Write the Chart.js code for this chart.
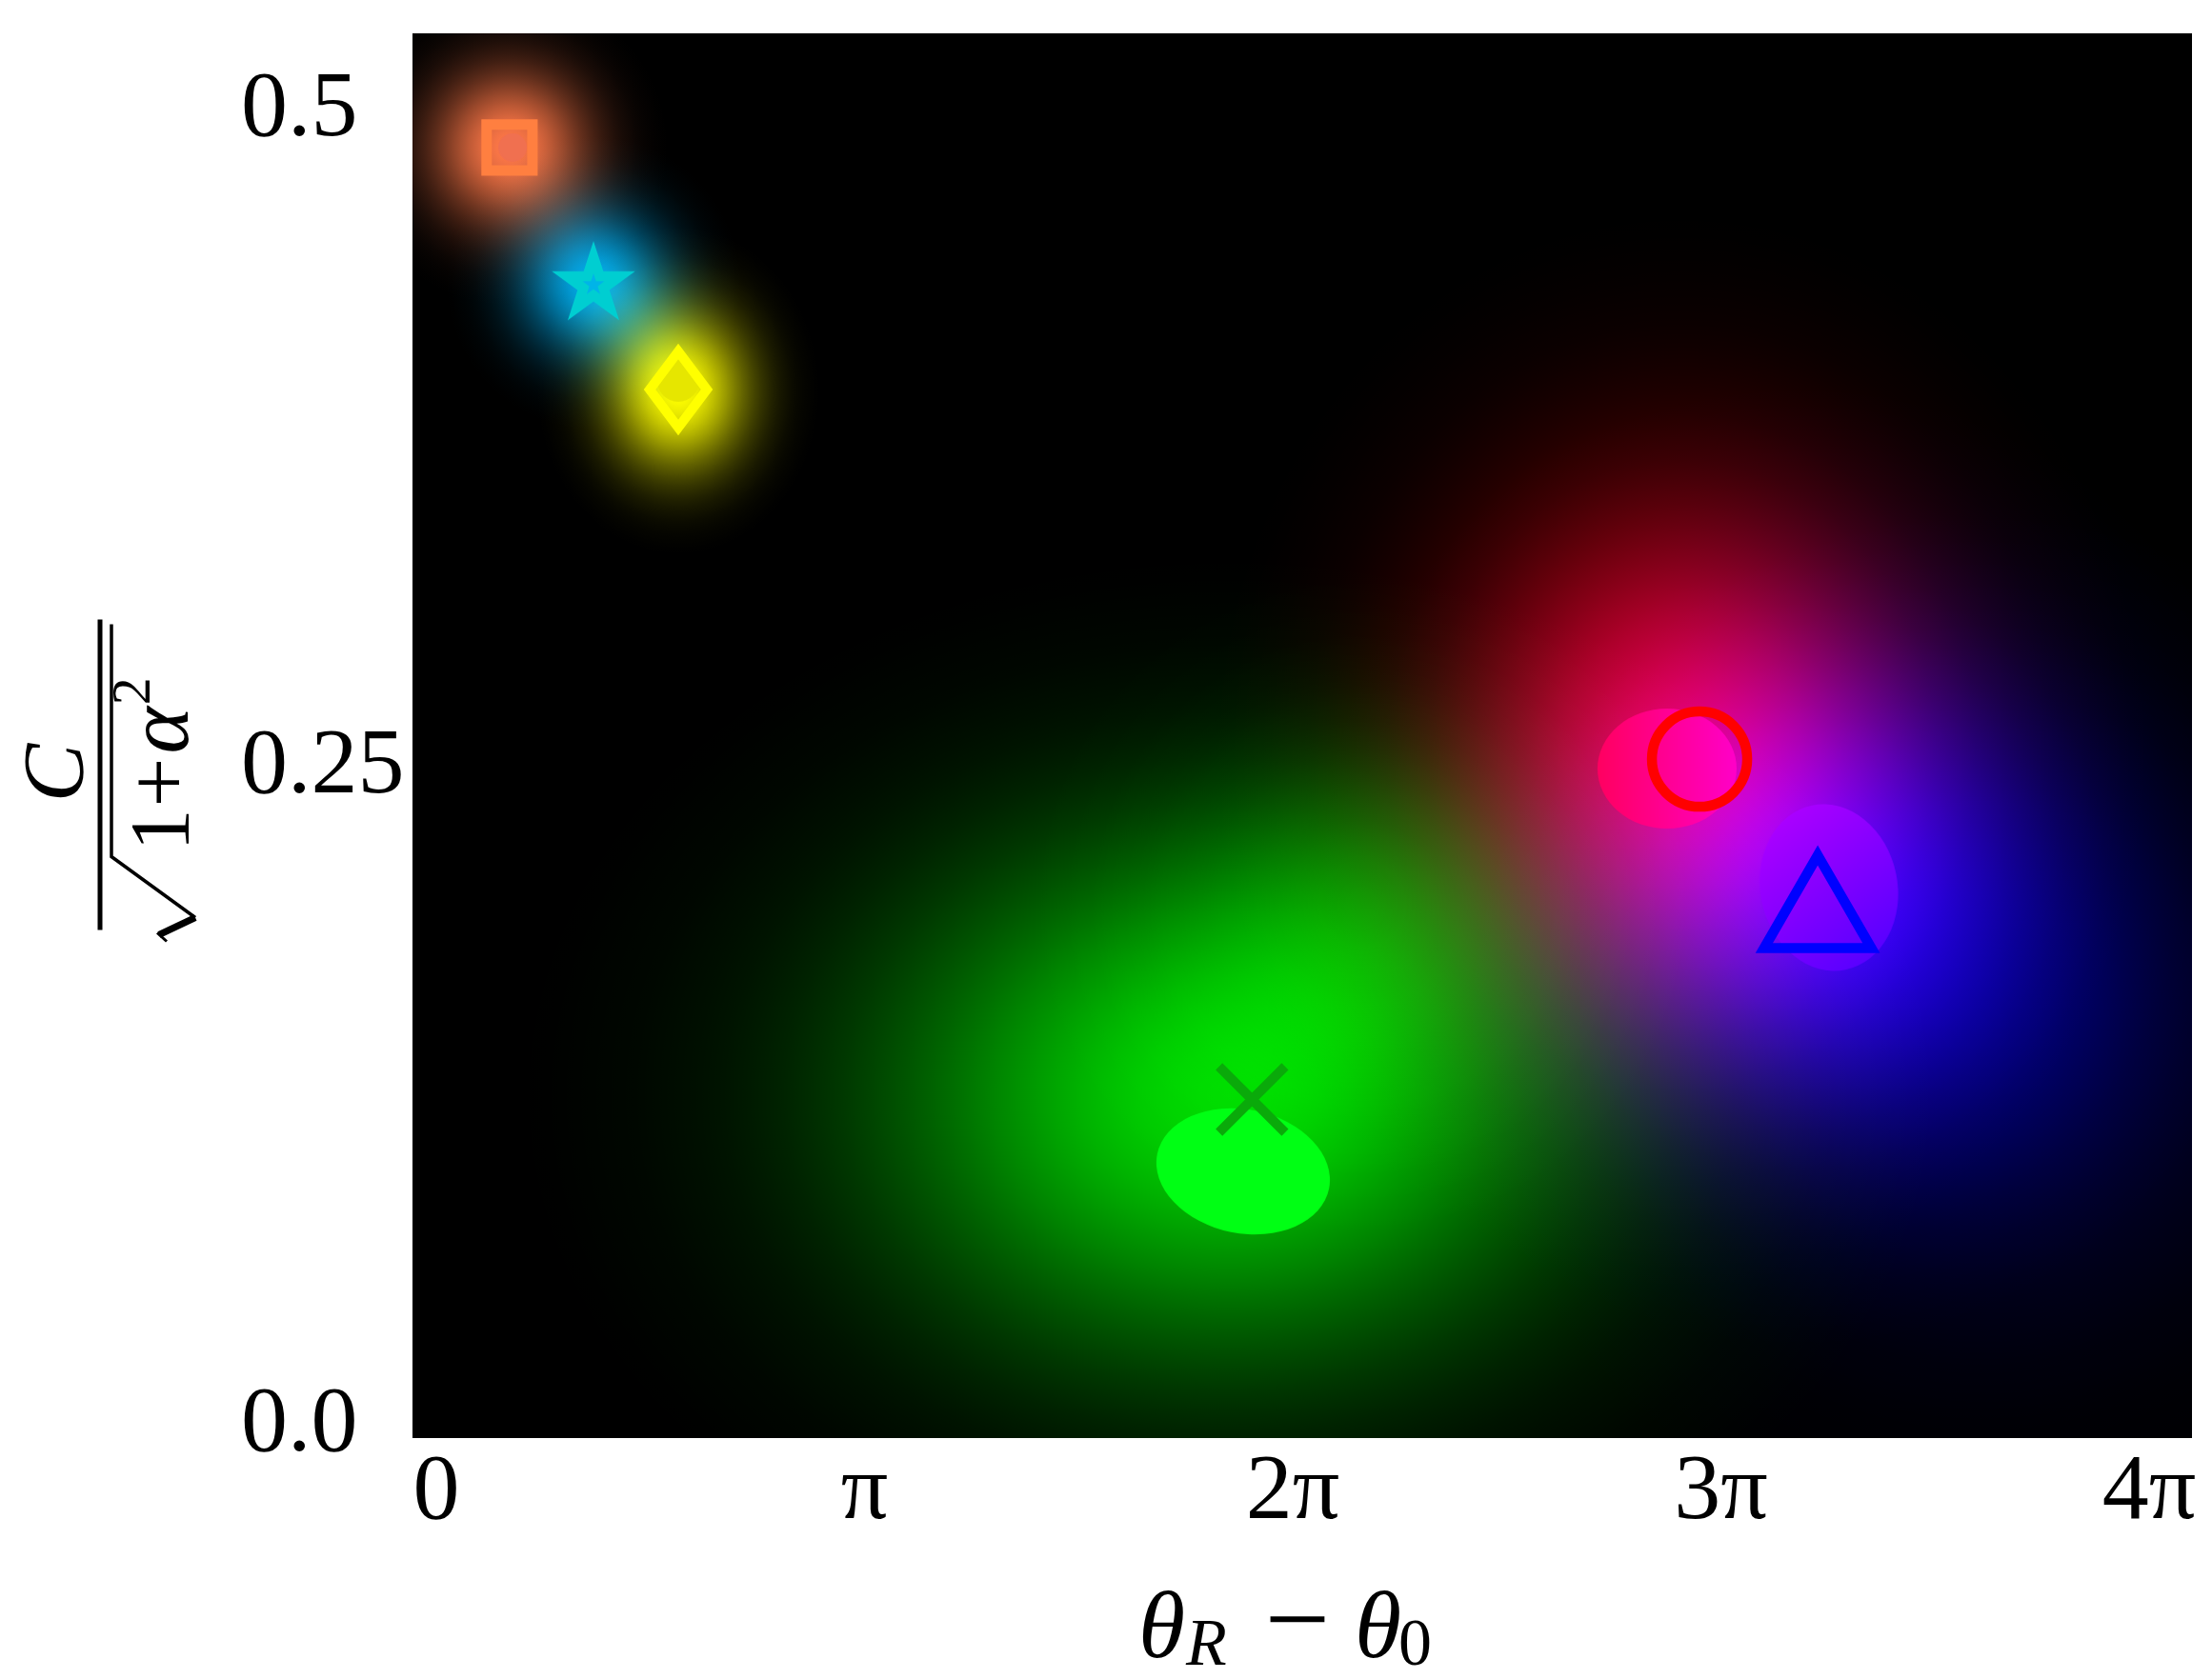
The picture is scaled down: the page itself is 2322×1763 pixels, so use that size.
<!DOCTYPE html>
<html>
<head>
<meta charset="utf-8">
<script src="https://cdn.jsdelivr.net/npm/chart.js@4.4.1/dist/chart.umd.min.js"></script>
<style>
  html, body { margin: 0; padding: 0; background: #fff; }
  #wrap { width: 2322px; height: 1763px; }
</style>
</head>
<body>
<div id="wrap"><canvas id="chart" width="2322" height="1763"></canvas></div>
<script>
// x values are in units of pi
const markerNames = ['square', 'star', 'diamond', 'cross', 'circle', 'triangle'];
const markerX = [0.171, 0.367, 0.565, 1.905, 2.950, 3.226];
const markerY = [0.4859, 0.4337, 0.3939, 0.1240, 0.2534, 0.1933];

// centres of the coloured density clouds
const glowX = [0.171, 0.367, 0.565, 1.851, 2.162, 2.908, 3.186, 3.608];
const glowY = [0.4859, 0.4345, 0.3936, 0.1256, 0.1980, 0.2560, 0.2125, 0.1510];

// saturated cores of the clouds
const coreX = [0.178, 0.565, 1.884, 2.874, 3.252];
const coreY = [0.4859, 0.3972, 0.0967, 0.2498, 0.2046];

const xTicks = [0, 1, 2, 3, 4];
const xTickLabels = ['0', 'π', '2π', '3π', '4π'];
const yTicks = [0, 0.25, 0.5];
const yTickLabels = ['0.0', '0.25', '0.5'];

const glowStyles = [
    { rgb: [255, 120, 72], sx: 56, sy: 56, peak: 1.0 },
    { rgb: [0, 170, 235], sx: 52, sy: 52, peak: 1.0 },
    { rgb: [255, 255, 0], sx: 50, sy: 58, peak: 1.0 },
    { rgb: [0, 255, 0], sx: 250, sy: 190, peak: 0.85 },
    { rgb: [0, 255, 0], sx: 120, sy: 120, peak: 0.2 },
    { rgb: [255, 0, 0], sx: 165, sy: 190, peak: 0.9 },
    { rgb: [0, 0, 255], sx: 170, sy: 170, peak: 0.9 },
    { rgb: [0, 0, 255], sx: 190, sy: 190, peak: 0.3 }
];

const coreStyles = [
    { rx: 15, ry: 15, rot: 0, colors: ['#f07050'] },
    { rx: 22, ry: 22, rot: 0, colors: ['#e6e600'] },
    { rx: 92, ry: 65, rot: 0.2, colors: ['#00ff14'] },
    { rx: 73, ry: 63, rot: 0, colors: ['#ff0060', '#ff00c8'] },
    { rx: 72, ry: 88, rot: -0.2, colors: ['#b800ff', '#4c00ff'] }
];

const SERIF = '"Liberation Serif", "Times New Roman", serif';

function makeGlow(s) {
    const c = document.createElement('canvas');
    c.width = Math.ceil(6 * s.sx);
    c.height = Math.ceil(6 * s.sy);
    const g = c.getContext('2d');
    g.translate(c.width / 2, c.height / 2);
    g.scale(1, s.sy / s.sx);
    const r = 3 * s.sx;
    const grad = g.createRadialGradient(0, 0, 0, 0, 0, r);
    const tail = Math.exp(-4.5);
    for (let i = 0; i <= 24; i++) {
        const t = i / 24;
        const a = s.peak * Math.max(0, (Math.exp(-4.5 * t * t) - tail) / (1 - tail));
        grad.addColorStop(t, 'rgba(' + s.rgb.join(',') + ',' + a.toFixed(4) + ')');
    }
    g.fillStyle = grad;
    g.fillRect(-r, -r, 2 * r, 2 * r);
    return c;
}

function makeCore(s) {
    const size = 2 * Math.max(s.rx, s.ry) + 4;
    const c = document.createElement('canvas');
    c.width = size; c.height = size;
    const g = c.getContext('2d');
    g.translate(size / 2, size / 2);
    if (s.colors.length > 1) {
        const grad = s.rot === 0
            ? g.createLinearGradient(-s.rx, 0, s.rx, 0)
            : g.createLinearGradient(-s.rx, -s.ry, s.rx, s.ry);
        grad.addColorStop(0, s.colors[0]);
        grad.addColorStop(1, s.colors[1]);
        g.fillStyle = grad;
    } else {
        g.fillStyle = s.colors[0];
    }
    g.beginPath();
    g.ellipse(0, 0, s.rx, s.ry, s.rot, 0, Math.PI * 2);
    g.fill();
    return c;
}

function starPath(g, R, r) {
    g.beginPath();
    for (let i = 0; i < 10; i++) {
        const a = -Math.PI / 2 + i * Math.PI / 5;
        const rr = i % 2 === 0 ? R : r;
        if (i === 0) g.moveTo(rr * Math.cos(a), rr * Math.sin(a));
        else g.lineTo(rr * Math.cos(a), rr * Math.sin(a));
    }
    g.closePath();
}

function makeStar() {
    const c = document.createElement('canvas');
    c.width = 100; c.height = 100;
    const g = c.getContext('2d');
    g.translate(50, 50);
    starPath(g, 46, 17.6);
    g.fillStyle = '#00ced1';
    g.fill();
    starPath(g, 12, 4.6);
    g.fillStyle = '#00b4e8';
    g.fill();
    return c;
}

function makeDiamond() {
    const c = document.createElement('canvas');
    c.width = 90; c.height = 114;
    const g = c.getContext('2d');
    g.translate(45, 57);
    g.beginPath();
    g.moveTo(0, -40); g.lineTo(30, 0); g.lineTo(0, 40); g.lineTo(-30, 0);
    g.closePath();
    g.lineJoin = 'miter';
    g.lineWidth = 10;
    g.strokeStyle = '#ffff00';
    g.stroke();
    return c;
}

function toPoints(xs, ys) {
    return xs.map((x, i) => ({ x: x, y: ys[i] }));
}

const blendPlugin = {
    id: 'blend',
    beforeDatasetsDraw(chart) {
        const a = chart.chartArea;
        chart.ctx.save();
        chart.ctx.fillStyle = '#000';
        chart.ctx.fillRect(a.left, a.top, a.right - a.left, a.bottom - a.top);
        chart.ctx.restore();
    },
    beforeDatasetDraw(chart, args) {
        if (chart.data.datasets[args.index].additive) {
            chart.ctx.globalCompositeOperation = 'lighter';
        }
    },
    afterDatasetDraw(chart) {
        chart.ctx.globalCompositeOperation = 'source-over';
    }
};

const titlePlugin = {
    id: 'titles',
    afterDraw(chart) {
        const ctx = chart.ctx;
        const a = chart.chartArea;
        ctx.save();
        ctx.fillStyle = '#000';
        ctx.strokeStyle = '#000';
        ctx.textBaseline = 'alphabetic';

        // x title: theta_R - theta_0
        const mid = (a.left + a.right) / 2;
        const base = a.bottom + 230;
        ctx.textAlign = 'left';
        ctx.font = 'italic 100px ' + SERIF;
        ctx.fillText('θ', mid - 172, base);
        ctx.font = 'italic 70px ' + SERIF;
        ctx.fillText('R', mid - 122, base + 8);
        ctx.textAlign = 'center';
        ctx.font = '122px ' + SERIF;
        ctx.fillText('−', mid - 5, base + 1);
        ctx.textAlign = 'left';
        ctx.font = 'italic 100px ' + SERIF;
        ctx.fillText('θ', mid + 55, base);
        ctx.font = '70px ' + SERIF;
        ctx.fillText('0', mid + 101, base + 8);

        // y title: C / sqrt(1 + alpha^2), rotated
        ctx.translate(a.left - 328, (a.top + a.bottom) / 2 + 41);
        ctx.rotate(-Math.PI / 2);
        ctx.lineWidth = 5;
        ctx.beginPath();
        ctx.moveTo(-163, 0); ctx.lineTo(163, 0);
        ctx.stroke();
        ctx.textAlign = 'center';
        ctx.font = 'italic 92px ' + SERIF;
        ctx.fillText('C', 2, -18);

        ctx.textAlign = 'left';
        let x = -80;
        ctx.font = '88px ' + SERIF;
        ctx.fillText('1', x, 92);
        x += ctx.measureText('1').width + 2;
        ctx.font = '92px ' + SERIF;
        ctx.fillText('+', x, 92);
        x += ctx.measureText('+').width + 4;
        ctx.font = 'italic 94px ' + SERIF;
        ctx.fillText('α', x, 92);
        x += ctx.measureText('α').width + 2;
        ctx.font = '58px ' + SERIF;
        ctx.fillText('2', x, 52);
        x += ctx.measureText('2').width;

        ctx.lineWidth = 3.5;
        ctx.lineJoin = 'miter';
        ctx.beginPath();
        ctx.moveTo(-150, 100); ctx.lineTo(-86, 12); ctx.lineTo(Math.max(158, x + 6), 12);
        ctx.stroke();
        ctx.lineWidth = 7;
        ctx.beginPath();
        ctx.moveTo(-168, 62); ctx.lineTo(-150, 100);
        ctx.stroke();
        ctx.lineWidth = 3;
        ctx.beginPath();
        ctx.moveTo(-175, 70); ctx.lineTo(-166, 60);
        ctx.stroke();
        ctx.restore();
    }
};

const glowImages = glowStyles.map(makeGlow);
const coreImages = coreStyles.map(makeCore);
const starImage = makeStar();
const diamondImage = makeDiamond();

const tickFont = { family: SERIF, size: 98 };

new Chart(document.getElementById('chart'), {
    type: 'scatter',
    data: {
        datasets: [
            {
                label: 'markers',
                data: toPoints(markerX, markerY),
                order: 1,
                clip: 0,
                pointStyle: ['rect', starImage, diamondImage, 'crossRot', 'circle', 'triangle'],
                pointRadius: [34, 10, 10, 49, 50, 65],
                pointBorderWidth: [11, 0, 0, 10, 10.5, 10.5],
                pointBorderColor: ['#ff7f40', 'rgba(0,0,0,0)', 'rgba(0,0,0,0)', '#0aaa0a', '#ff0000', '#0000ff'],
                pointBackgroundColor: 'rgba(0,0,0,0)'
            },
            {
                label: 'cores',
                data: toPoints(coreX, coreY),
                order: 2,
                clip: 0,
                pointStyle: coreImages,
                pointRadius: 10
            },
            {
                label: 'glows',
                data: toPoints(glowX, glowY),
                order: 3,
                clip: 0,
                additive: true,
                pointStyle: glowImages,
                pointRadius: 10
            }
        ]
    },
    options: {
        responsive: false,
        animation: false,
        events: [],
        layout: { autoPadding: false, padding: { top: 35, right: 21, left: 253, bottom: 0 } },
        plugins: {
            legend: { display: false },
            tooltip: { enabled: false }
        },
        scales: {
            x: {
                type: 'linear',
                min: -0.0556,
                max: 4.1,
                grid: { display: false, drawTicks: false },
                border: { display: false },
                afterBuildTicks: s => { s.ticks = xTicks.map(v => ({ value: v })); },
                afterFit: s => { s.height = 253; s.paddingLeft = 0; s.paddingRight = 0; },
                ticks: {
                    font: tickFont,
                    color: '#000',
                    padding: -1,
                    maxRotation: 0,
                    autoSkip: false,
                    callback: (v, i) => xTickLabels[i]
                }
            },
            y: {
                type: 'linear',
                min: -0.0047,
                max: 0.5293,
                grid: { display: false, drawTicks: false },
                border: { display: false },
                afterBuildTicks: s => { s.ticks = yTicks.map(v => ({ value: v })); },
                afterFit: s => { s.width = 180; s.paddingTop = 0; s.paddingBottom = 0; },
                ticks: {
                    font: tickFont,
                    color: '#000',
                    padding: 0,
                    crossAlign: 'far',
                    autoSkip: false,
                    callback: (v, i) => yTickLabels[i]
                }
            }
        }
    },
    plugins: [blendPlugin, titlePlugin]
});
</script>
</body>
</html>
